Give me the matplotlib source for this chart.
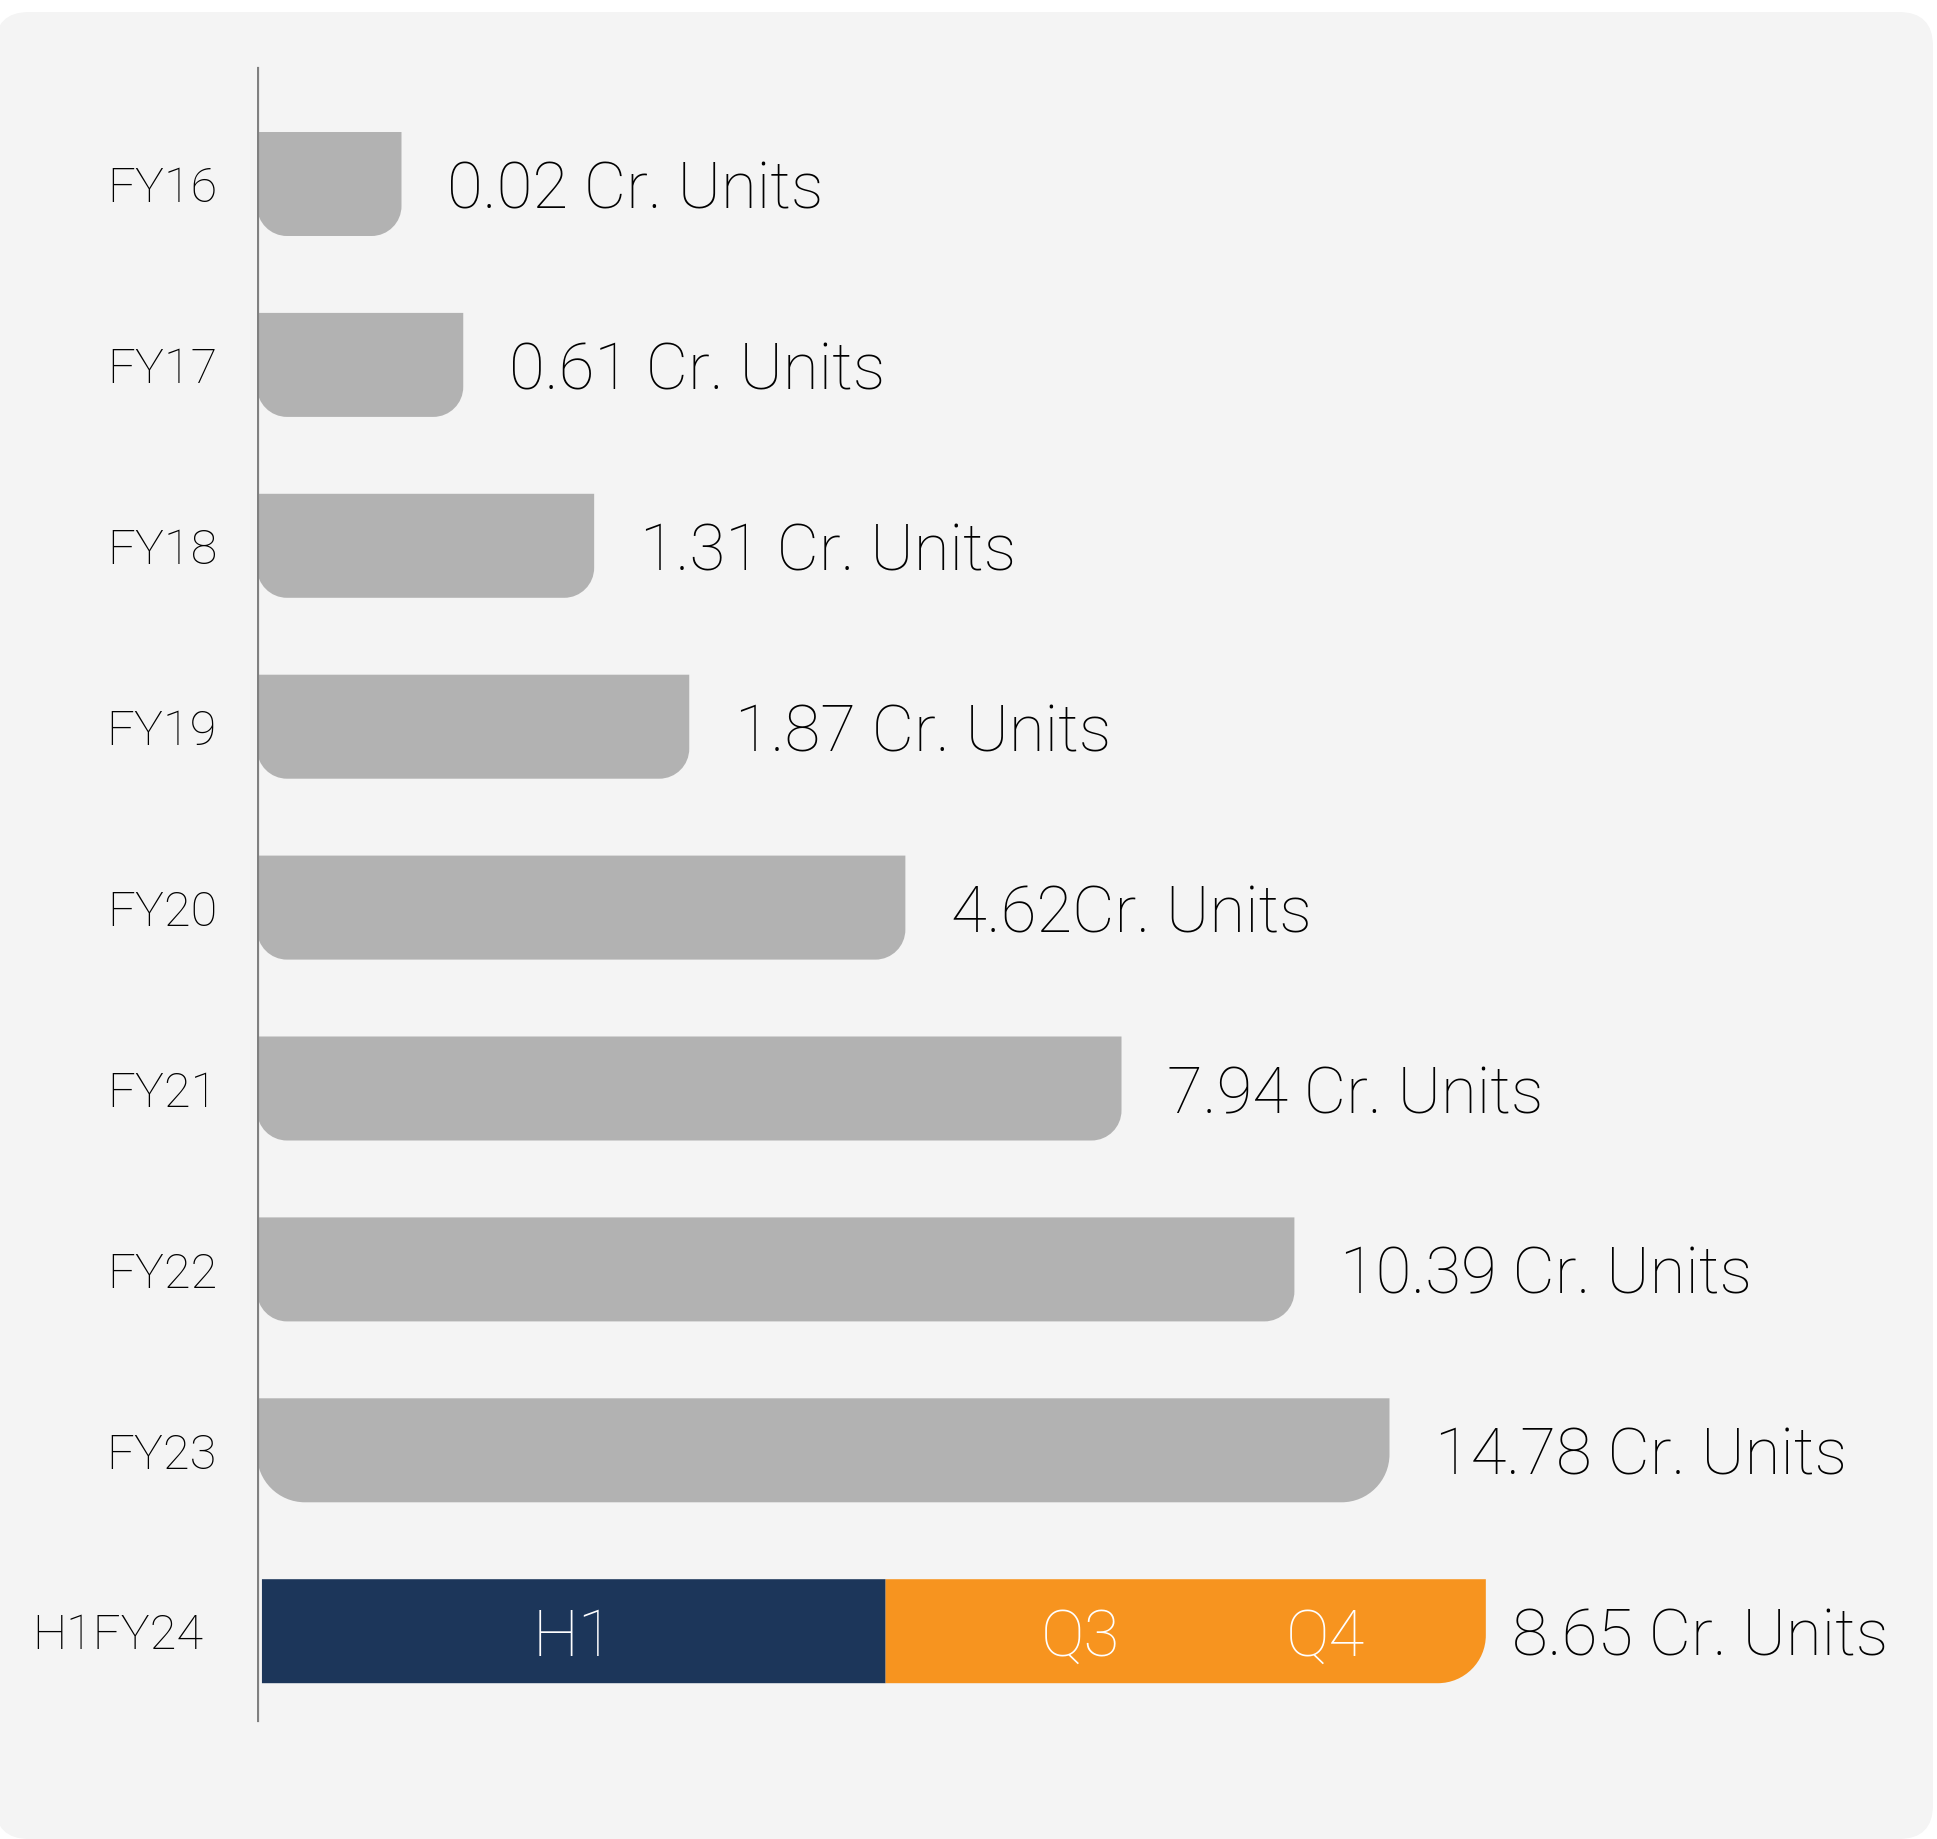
# Volume por ano fiscal - barras horizontais com cantos inferiores arredondados
import numpy as np
import matplotlib.pyplot as plt
from matplotlib.path import Path
from matplotlib.patches import PathPatch, FancyBboxPatch

# ---------------------------------------------------------------
# DADOS
# ---------------------------------------------------------------
categorias = ["FY16", "FY17", "FY18", "FY19", "FY20", "FY21", "FY22", "FY23"]
comprimento = [1.17, 1.67, 2.73, 3.50, 5.25, 7.00, 8.40, 9.17]   # tamanho da barra no gráfico
rotulos = ["0.02 Cr. Units", "0.61 Cr. Units", "1.31 Cr. Units", "1.87 Cr. Units",
           "4.62Cr. Units", "7.94 Cr. Units", "10.39 Cr. Units", "14.78 Cr. Units"]

ultima_cat = "H1FY24"
h1_comp = 5.05
q3q4_comp = 4.86
ultima_rotulo = "8.65 Cr. Units"
segmentos = ["H1", "Q3", "Q4"]

# ---------------------------------------------------------------
# ESTILO
# ---------------------------------------------------------------
W, H, DPI = 1937, 1839, 100
FONTE = ["Roboto", "DejaVu Sans"]
PESO = "light"
plt.rcParams['font.family'] = FONTE

cinza = "#b2b2b2"
azul = "#1c365a"
laranja = "#f7941f"
fundo = "#f4f4f4"
preto = "#000000"

fig = plt.figure(figsize=(W / DPI, H / DPI), dpi=DPI, facecolor="white")

# painel de fundo arredondado
painel = FancyBboxPatch((-5, 0), 1938, 1827,
                        boxstyle="round,pad=0,rounding_size=34",
                        transform=None, facecolor=fundo, edgecolor="none",
                        zorder=-10)
fig.patches.append(painel)

eixo_x = 257
ax = fig.add_axes([eixo_x / W, 0, (W - eixo_x) / W, 1])
ax.set_zorder(5)
ax.set_facecolor("none")
ax.set_xlim(0, (W - eixo_x) / 123.5)

passo = 180.9
centro0 = 184
ax.set_ylim((H - centro0) / passo, -centro0 / passo)
ax.axis("off")

altura = 104 / passo
px_x = 1 / 123.5   # unidades de dados por pixel (x)
px_y = 1 / passo   # unidades de dados por pixel (y)


def barra(x0, largura, yc, cor, r_esq, r_dir):
    # cantos superiores retos, inferiores arredondados (eixo y invertido)
    x1 = x0 + largura
    yt = yc - altura / 2
    yb = yc + altura / 2
    k = 0.5523
    rxl, ryl = r_esq * px_x, r_esq * px_y
    rxr, ryr = r_dir * px_x, r_dir * px_y
    verts = [(x0, yt), (x1, yt), (x1, yb - ryr),
             (x1, yb - ryr + k * ryr), (x1 - rxr + k * rxr, yb), (x1 - rxr, yb),
             (x0 + rxl, yb),
             (x0 + rxl - k * rxl, yb), (x0, yb - ryl + k * ryl), (x0, yb - ryl),
             (x0, yt)]
    codes = [Path.MOVETO, Path.LINETO, Path.LINETO,
             Path.CURVE4, Path.CURVE4, Path.CURVE4,
             Path.LINETO,
             Path.CURVE4, Path.CURVE4, Path.CURVE4,
             Path.CLOSEPOLY]
    ax.add_patch(PathPatch(Path(verts, codes), facecolor=cor, edgecolor="none"))


y_pos = np.arange(len(categorias) + 1)
raios = [30] * len(categorias)
raios[-1] = 48

fs_valor = 47
fs_cat = 35

for i, cat in enumerate(categorias):
    barra(0, comprimento[i], y_pos[i], cinza, raios[i], raios[i])
    ax.annotate(rotulos[i], (comprimento[i], y_pos[i]), xytext=(33, 0),
                textcoords="offset points", ha="left", va="center_baseline",
                fontsize=fs_valor, color=preto, fontweight=PESO)
    ax.text(-0.77, y_pos[i], cat, ha="center", va="center_baseline",
            fontsize=fs_cat, color=preto, fontweight=PESO, clip_on=False)

# ultima barra: H1 (azul) + Q3/Q4 (laranja)
yu = y_pos[-1]
x_h1 = 0.04
barra(x_h1, h1_comp, yu, azul, 0, 0)
x_q = x_h1 + h1_comp
barra(x_q, q3q4_comp, yu, laranja, 0, 48)

ax.text(x_h1 + h1_comp / 2, yu, segmentos[0], ha="center", va="center_baseline",
        fontsize=fs_valor, color="white", fontweight=PESO)
ax.text(x_q + 0.325 * q3q4_comp, yu, segmentos[1], ha="center", va="center_baseline",
        fontsize=fs_valor, color="white", fontweight=PESO)
ax.text(x_q + 0.733 * q3q4_comp, yu, segmentos[2], ha="center", va="center_baseline",
        fontsize=fs_valor, color="white", fontweight=PESO)

ax.annotate(ultima_rotulo, (x_q + q3q4_comp, yu), xytext=(19, 0),
            textcoords="offset points", ha="left", va="center_baseline",
            fontsize=fs_valor, color=preto, fontweight=PESO)
ax.text(-1.13, yu, ultima_cat, ha="center", va="center_baseline",
        fontsize=fs_cat, color=preto, fontweight=PESO, clip_on=False)

# linha vertical do eixo
ax.axvline(0, ymin=1 - 1720 / H, ymax=1 - 68 / H, color="#808080", linewidth=2.3)

fig.savefig("out.png", dpi=DPI, facecolor="white")
